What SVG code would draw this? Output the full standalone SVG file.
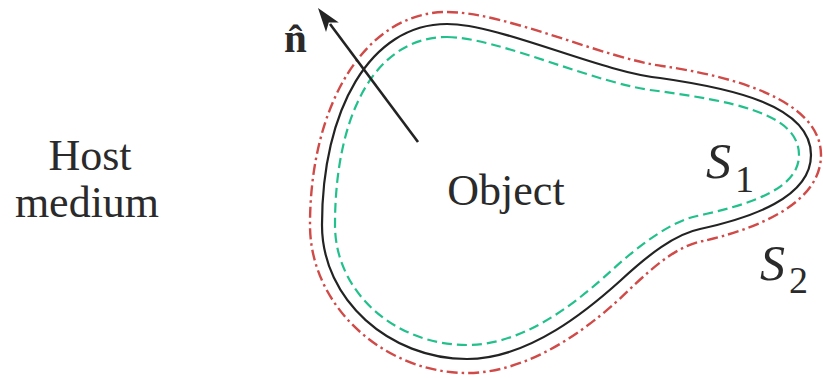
<svg xmlns="http://www.w3.org/2000/svg" width="823" height="378" viewBox="0 0 823 378">
<defs>
<style>
.lbl{font-family:"Liberation Serif","Times New Roman",serif;fill:#2a2a2a}
.it{font-style:italic}
.s1{fill:none;stroke:#232323;stroke-width:2.2}
.s2{fill:none;stroke:#d04a48;stroke-width:2.4;stroke-dasharray:11 4 2.5 4}
.g{fill:none;stroke:#22c08c;stroke-width:2.2;stroke-dasharray:10 5}
</style>
</defs>
<rect width="823" height="378" fill="#ffffff"/>
<g id="surface-S2">
<path class="s2" d="M 447 12 C 505 12, 604 58, 662 66 C 732 76, 821 100, 821 155 C 821 205, 752 230, 703 241 C 678 246, 656 264, 628 291 C 598 320, 535 373, 467 373 C 385 373, 310 307, 310 225 C 310 105, 365 12, 447 12 Z"/>
</g>
<g id="object-S1">
<path class="s1" d="M 447 24 C 500 24, 600 72, 660 78 C 730 88, 811 105, 811 155 C 811 198, 750 218, 700 229 C 675 234, 648 255, 620 281 C 590 308, 530 359, 467 359 C 390 359, 322 300, 322 225 C 322 110, 370 24, 447 24 Z"/>
</g>
<g id="inner-surface">
<path class="g" d="M 447 37 C 497 37, 598 85, 658 91 C 728 101, 799 112, 799 155 C 799 190, 747 205, 697 216 C 672 221, 639 245, 611 271 C 581 298, 527 345, 467 345 C 395 345, 335 292, 335 225 C 335 115, 375 37, 447 37 Z"/>
</g>
<g id="connectors">
<line x1="418" y1="142" x2="330" y2="24" stroke="#232323" stroke-width="2.6"/>
<polygon points="318,8 338.8,22.4 328.8,22.4 326,32" fill="#232323"/>
</g>
<g id="normal-label">
<text class="lbl" x="284" y="52" font-size="41" font-weight="bold">n̂</text>
</g>
<g id="host">
<text class="lbl" x="90" y="170" font-size="44" text-anchor="middle">Host</text>
<text class="lbl" x="87" y="217" font-size="44" text-anchor="middle">medium</text>
</g>
<g id="object">
<text class="lbl" x="506" y="205" font-size="44" text-anchor="middle">Object</text>
</g>
<g id="label-S1">
<text class="lbl" x="706" y="178" font-size="50"><tspan class="it">S</tspan><tspan font-size="38" dx="4" dy="14">1</tspan></text>
</g>
<g id="label-S2">
<text class="lbl" x="760" y="280" font-size="50"><tspan class="it">S</tspan><tspan font-size="38" dx="4" dy="13">2</tspan></text>
</g>
</svg>
